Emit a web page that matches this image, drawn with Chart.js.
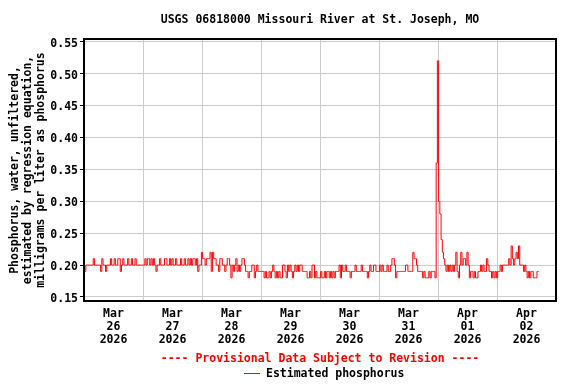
<!DOCTYPE html>
<html>
<head>
<meta charset="utf-8">
<script src="https://cdn.jsdelivr.net/npm/chart.js@4"></script>
<style>
  html, body { margin: 0; padding: 0; background: #fff; }
</style>
</head>
<body>
<canvas id="chart" width="576" height="384"></canvas>
<script>
// Estimated phosphorus, mg/L, one reading every 30 minutes starting Mar 26 00:00
const mar26 = [0.20,0.19,0.20,0.20,0.20,0.20,0.20,0.20, 0.21,0.20,0.20,0.20,0.20,0.20,0.19,0.21,
               0.20,0.20,0.19,0.20,0.20,0.20,0.21,0.20, 0.20,0.21,0.20,0.20,0.21,0.21,0.19,0.20,
               0.21,0.20,0.20,0.20,0.21,0.20,0.20,0.21, 0.20,0.20,0.21,0.20,0.20,0.20,0.20,0.20];
const mar27 = [0.20,0.20,0.21,0.20,0.21,0.21,0.20,0.21, 0.20,0.21,0.20,0.19,0.20,0.20,0.21,0.20,
               0.20,0.20,0.21,0.21,0.20,0.20,0.21,0.20, 0.21,0.20,0.20,0.21,0.20,0.20,0.20,0.21,
               0.20,0.20,0.21,0.20,0.20,0.21,0.20,0.21, 0.20,0.21,0.21,0.20,0.21,0.19,0.20,0.20];
const mar28 = [0.22,0.21,0.21,0.20,0.21,0.21,0.21,0.22, 0.19,0.22,0.21,0.21,0.20,0.20,0.19,0.21,
               0.21,0.20,0.20,0.19,0.20,0.21,0.21,0.20, 0.18,0.20,0.19,0.20,0.21,0.19,0.20,0.19,
               0.20,0.21,0.21,0.20,0.19,0.19,0.18,0.19, 0.19,0.20,0.20,0.18,0.19,0.20,0.19,0.19];
const mar29 = [0.19,0.19,0.19,0.18,0.19,0.18,0.18,0.19, 0.18,0.19,0.20,0.19,0.18,0.19,0.18,0.19,
               0.18,0.18,0.20,0.20,0.19,0.18,0.20,0.19, 0.20,0.19,0.18,0.19,0.20,0.19,0.20,0.19,
               0.20,0.20,0.19,0.19,0.19,0.19,0.18,0.18, 0.19,0.18,0.20,0.20,0.18,0.19,0.18,0.18];
const mar30 = [0.18,0.19,0.18,0.18,0.19,0.18,0.19,0.19, 0.18,0.19,0.18,0.19,0.18,0.19,0.19,0.19,
               0.20,0.18,0.20,0.19,0.19,0.20,0.19,0.19, 0.19,0.18,0.19,0.19,0.19,0.20,0.19,0.19,
               0.19,0.19,0.20,0.19,0.19,0.19,0.19,0.18, 0.19,0.20,0.19,0.19,0.20,0.20,0.19,0.19];
const mar31 = [0.19,0.20,0.19,0.20,0.19,0.19,0.19,0.20, 0.19,0.19,0.20,0.21,0.21,0.20,0.18,0.19,
               0.19,0.19,0.19,0.19,0.19,0.19,0.20,0.20, 0.19,0.19,0.19,0.19,0.22,0.21,0.21,0.20,
               0.19,0.19,0.19,0.19,0.18,0.19,0.18,0.18, 0.18,0.19,0.18,0.19,0.19,0.19,0.18,0.36];
const apr01 = [0.52,0.30,0.28,0.24,0.22,0.21,0.20,0.19, 0.20,0.19,0.20,0.19,0.20,0.19,0.20,0.22,
               0.19,0.18,0.20,0.22,0.20,0.21,0.21,0.20, 0.22,0.20,0.18,0.19,0.19,0.18,0.19,0.18,
               0.18,0.19,0.19,0.20,0.19,0.20,0.19,0.19, 0.21,0.20,0.19,0.19,0.18,0.19,0.18,0.19];
const apr02 = [0.18,0.19,0.19,0.20,0.19,0.20,0.20,0.20, 0.20,0.20,0.21,0.20,0.23,0.21,0.20,0.21,
               0.22,0.21,0.23,0.20,0.20,0.20,0.19,0.20, 0.19,0.18,0.19,0.18,0.19,0.19,0.18,0.18,
               0.18,0.19,0.19];

const phosphorus = [].concat(mar26, mar27, mar28, mar29, mar30, mar31, apr01, apr02);
const stepHours = 0.5;

// x axis runs in hours from Mar 26 00:00; one label per day
const tickMonths = ['Mar', 'Mar', 'Mar', 'Mar', 'Mar', 'Mar', 'Apr', 'Apr'];
const tickDays   = ['26', '27', '28', '29', '30', '31', '01', '02'];
const tickYear   = '2026';
const yTicks = [0.15, 0.20, 0.25, 0.30, 0.35, 0.40, 0.45, 0.50, 0.55];

const chartTitle = 'USGS 06818000 Missouri River at St. Joseph, MO';
const provisionalNote = '---- Provisional Data Subject to Revision ----';
const seriesName = 'Estimated phosphorus';
const yTitleLines = ['Phosphorus, water, unfiltered,',
                     'estimated by regression equation,',
                     'milligrams per liter as phosphorus'];

const monoBold = { family: '"DejaVu Sans Mono", monospace', size: 11.5, weight: 'bold', lineHeight: '13px' };
const gridColor = '#cccccc';
const red = '#ff0000';

// titles, legend and the box round the plot
const overlay = {
    id: 'overlay',
    afterDraw(chart) {
        const ctx = chart.ctx;
        const a = chart.chartArea;
        const mid = (a.left + a.right) / 2;
        ctx.save();
        ctx.font = 'bold 11.5px "DejaVu Sans Mono", monospace';
        ctx.textBaseline = 'middle';
        ctx.textAlign = 'center';
        ctx.fillStyle = '#000';
        ctx.fillText(chartTitle, mid, 20);
        ctx.fillStyle = red;
        ctx.fillText(provisionalNote, mid, 359);

        // legend
        const lx = mid - 76;
        ctx.strokeStyle = red;
        ctx.lineWidth = 1;
        ctx.beginPath();
        ctx.moveTo(lx, 373.5);
        ctx.lineTo(lx + 16, 373.5);
        ctx.stroke();
        ctx.textAlign = 'left';
        ctx.fillStyle = '#000';
        ctx.fillText(seriesName, lx + 22, 374);

        // frame
        ctx.strokeStyle = '#000';
        ctx.lineWidth = 2;
        ctx.strokeRect(a.left, a.top, a.right - a.left, a.bottom - a.top);

        // y axis title, rotated
        ctx.translate(28, (a.top + a.bottom) / 2);
        ctx.rotate(-Math.PI / 2);
        ctx.textAlign = 'center';
        yTitleLines.forEach((line, k) => ctx.fillText(line, 0, (k - 1) * 13));
        ctx.restore();
    }
};

new Chart(document.getElementById('chart'), {
    type: 'line',
    data: {
        datasets: [{
            label: seriesName,
            data: phosphorus.map((v, i) => ({ x: i * stepHours, y: v })),
            borderColor: red,
            borderWidth: 1,
            pointRadius: 0,
            stepped: 'middle'
        }]
    },
    options: {
        responsive: false,
        animation: false,
        devicePixelRatio: 1,
        layout: { padding: { top: 39, right: 20, left: 0, bottom: 0 } },
        plugins: {
            legend: { display: false },
            title: { display: false },
            tooltip: { enabled: false }
        },
        scales: {
            x: {
                type: 'linear',
                min: 0,
                max: 192,
                border: { display: false },
                grid: { color: gridColor, drawTicks: false },
                afterFit: (s) => { s.height = 83; },
                ticks: {
                    stepSize: 24,
                    autoSkip: false,
                    maxRotation: 0,
                    labelOffset: 29.5,
                    padding: 7,
                    color: '#000',
                    font: monoBold,
                    callback: function (value) {
                        const k = Math.round(value / 24);
                        if (k >= tickDays.length) return '';
                        return [tickMonths[k], tickDays[k], tickYear];
                    }
                }
            },
            y: {
                min: 0.1437,
                max: 0.5542,
                border: { display: false },
                grid: { color: gridColor, tickColor: '#000', tickLength: 4 },
                afterFit: (s) => { s.width = 84; },
                afterBuildTicks: (s) => { s.ticks = yTicks.map(v => ({ value: v })); },
                ticks: {
                    padding: 2,
                    labelOffset: 2,
                    color: '#000',
                    font: monoBold,
                    callback: (v) => v.toFixed(2)
                }
            }
        }
    },
    plugins: [overlay]
});
</script>
</body>
</html>
